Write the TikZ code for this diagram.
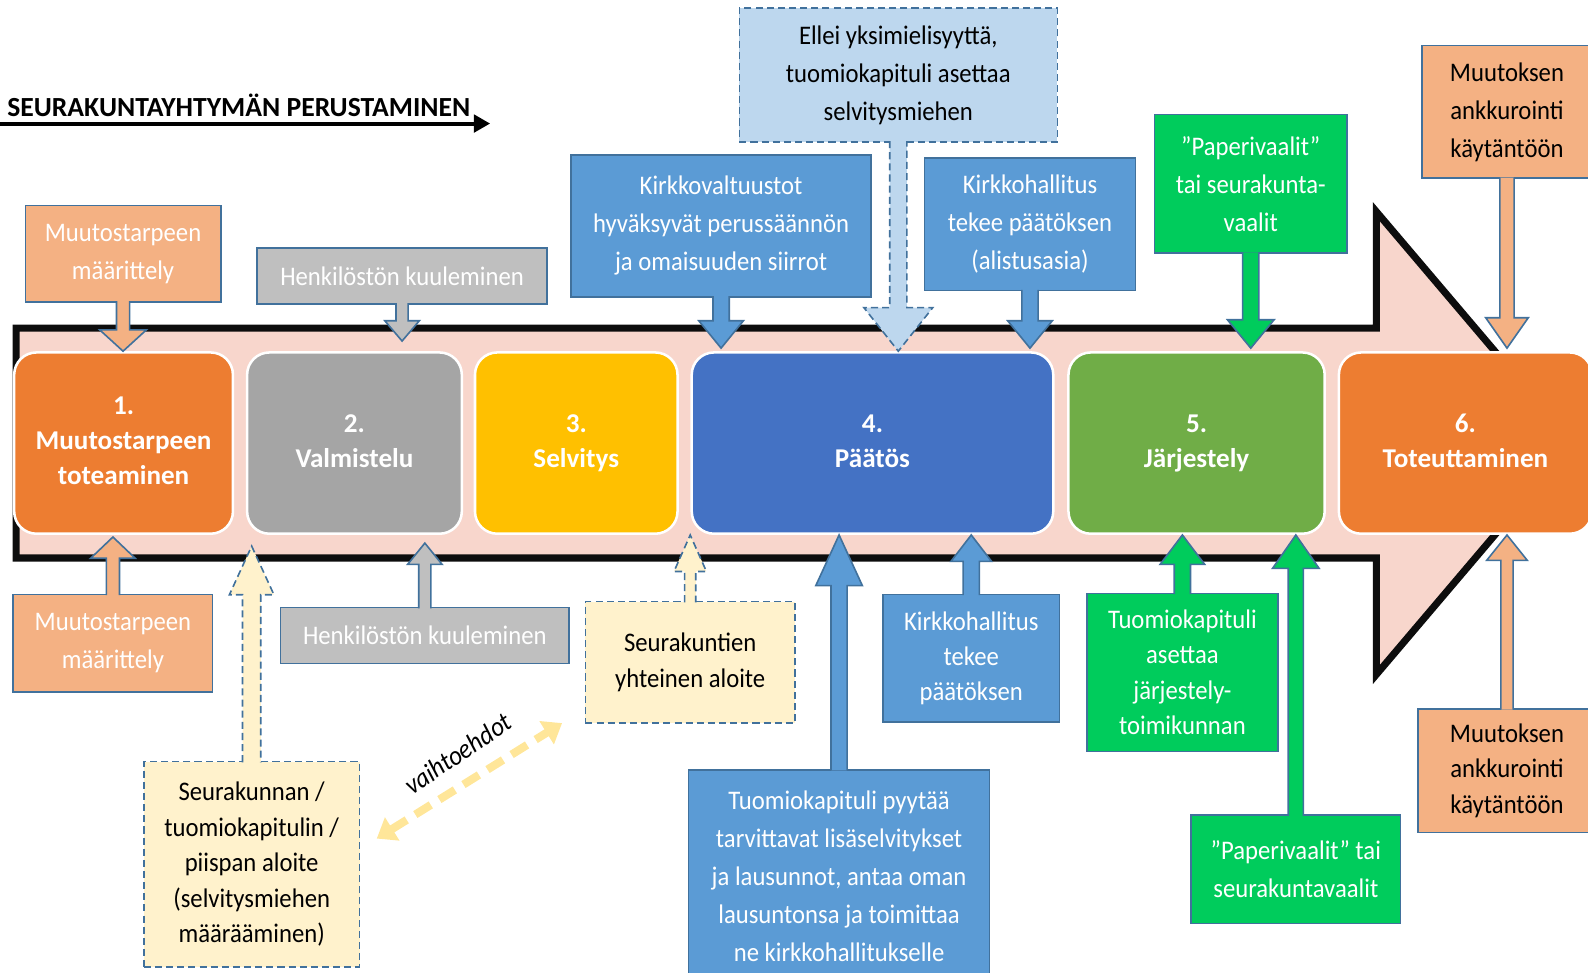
\documentclass[tikz,border=0pt]{standalone}
\usepackage{fontspec}
\setmainfont{Carlito}
\newfontfamily\cfont{Carlito}[FakeStretch=0.92]
\usetikzlibrary{calc,arrows.meta}
\definecolor{pinkband}{HTML}{F8D6CC}
\definecolor{corangeD}{HTML}{ED7D31}
\definecolor{cgrayD}{HTML}{A5A5A5}
\definecolor{cyellowD}{HTML}{FFC000}
\definecolor{cblueD}{HTML}{4472C4}
\definecolor{cgreenD}{HTML}{70AD47}
\definecolor{corangeL}{HTML}{F4B183}
\definecolor{cgrayL}{HTML}{BFBFBF}
\definecolor{cblueM}{HTML}{5B9BD5}
\definecolor{cblueL}{HTML}{BDD7EE}
\definecolor{cgreenB}{HTML}{00CC5C}
\definecolor{cyellowL}{HTML}{FFF2CC}
\definecolor{outl}{HTML}{41719C}
\definecolor{altarrow}{HTML}{FFE699}
\newcommand\blockarr[6]{%
  \coordinate (ba-s) at #2;
  \coordinate (ba-t) at #3;
  \coordinate (ba-b) at ($(ba-t)!#6!(ba-s)$);
  \path[#1] ([xshift=-#4]ba-s) -- ([xshift=-#4]ba-b) -- ([xshift=-#5]ba-b) -- (ba-t) -- ([xshift=#5]ba-b) -- ([xshift=#4]ba-b) -- ([xshift=#4]ba-s);
}
\tikzset{
  rowbox/.style={draw=white, line width=2.5pt, rounded corners=22pt, text=white,
    font=\fontsize{26.8}{34.5}\selectfont\bfseries, align=center, minimum height=179pt, inner sep=0pt,
    execute at end node=\vphantom{jy}},
  callout/.style={draw=outl, line width=1.6pt, font=\cfont\fontsize{26.5}{37.5}\selectfont, align=center, inner sep=0pt},
  tight/.style={font=\cfont\fontsize{26.5}{35}\selectfont},
  dashcallout/.style={callout, dash pattern=on 7pt off 4pt},
  callarrow/.style={draw=outl, line width=1.6pt},
  dasharrow/.style={callarrow, dash pattern=on 7pt off 4pt},
}
\begin{document}
\begin{tikzpicture}[x=1pt,y=-1pt]
\useasboundingbox (0,0) rectangle (1568,960.7);
% big process arrow
\draw[line width=7pt, fill=pinkband, draw=black!95] (16,324) -- (1359,324) -- (1359,209) -- (1553,437.5) -- (1359,666) -- (1359,551) -- (16,551) -- cycle;
% stage boxes
\node[rowbox, fill=corangeD, minimum width=216pt] (s1) at (122,437.5) {1.\\Muutostarpeen\\toteaminen};
\node[rowbox, fill=cgrayD, minimum width=212pt] (s2) at (350,437.5) {2.\\Valmistelu};
\node[rowbox, fill=cyellowD, minimum width=200pt] (s3) at (569,437.5) {3.\\Selvitys};
\node[rowbox, fill=cblueD, minimum width=357pt] (s4) at (861.5,437.5) {4.\\Päätös};
\node[rowbox, fill=cgreenD, minimum width=253pt] (s5) at (1181.5,437.5) {5.\\Järjestely};
\node[rowbox, fill=corangeD, minimum width=250pt] (s6) at (1447,437.5) {6.\\Toteuttaminen};
% top callouts
\node[callout, fill=corangeL, text=white, minimum width=193pt, minimum height=95pt] (A1) at (121.5,250.5) {Muutostarpeen\\määrittely};
\node[callout, fill=cgrayL, text=white, minimum width=286pt, minimum height=55pt] (A2) at (397,272.5) {Henkilöstön kuuleminen};
\node[callout, fill=cblueM, text=white, minimum width=296pt, minimum height=140pt] (A3) at (712,223) {Kirkkovaltuustot\\hyväksyvät perussäännön\\ja omaisuuden siirrot};
\node[dashcallout, fill=cblueL, text=black, minimum width=314pt, minimum height=132pt] (A4) at (887,74) {Ellei yksimielisyyttä,\\tuomiokapituli asettaa\\selvitysmiehen};
\node[callout, fill=cblueM, text=white, minimum width=208pt, minimum height=131pt] (A5) at (1017,221.5) {Kirkkohallitus\\tekee päätöksen\\(alistusasia)};
\node[callout, fill=cgreenB, text=white, minimum width=190pt, minimum height=137pt] (A6) at (1235,181.5) {”Paperivaalit”\\tai seurakunta-\\vaalit};
\node[callout, fill=corangeL, text=black, minimum width=168pt, minimum height=131pt] (A7) at (1488,110.5) {Muutoksen\\ankkurointi\\käytäntöön};
% bottom callouts
\node[callout, fill=corangeL, text=white, minimum width=197pt, minimum height=96pt] (B1) at (111.5,635) {Muutostarpeen\\määrittely};
\node[dashcallout, tight, fill=cyellowL, text=black, minimum width=213pt, minimum height=203pt] (B2) at (248.5,853.5) {Seurakunnan /\\tuomiokapitulin /\\piispan aloite\\(selvitysmiehen\\määrääminen)};
\node[callout, fill=cgrayL, text=white, minimum width=285pt, minimum height=55pt] (B3) at (419.5,627.5) {Henkilöstön kuuleminen};
\node[dashcallout, tight, fill=cyellowL, text=black, minimum width=207pt, minimum height=120pt] (B4) at (681.5,654) {Seurakuntien\\yhteinen aloite};
\node[callout, fill=cblueM, text=white, minimum width=297pt, minimum height=210pt] (B5) at (828.5,865) {Tuomiokapituli pyytää\\tarvittavat lisäselvitykset\\ja lausunnot, antaa oman\\lausuntonsa ja toimittaa\\ne kirkkohallitukselle};
\node[callout, tight, fill=cblueM, text=white, minimum width=174pt, minimum height=126pt] (B6) at (959,650) {Kirkkohallitus\\tekee\\päätöksen};
\node[callout, tight, fill=cgreenB, text=white, minimum width=189pt, minimum height=156pt] (B7) at (1167.5,664) {Tuomiokapituli\\asettaa\\järjestely-\\toimikunnan};
\node[callout, fill=cgreenB, text=white, minimum width=207pt, minimum height=107pt] (B8) at (1279.5,858.5) {”Paperivaalit” tai\\seurakuntavaalit};
\node[callout, tight, fill=corangeL, text=black, minimum width=176pt, minimum height=122pt] (B9) at (1488,761) {Muutoksen\\ankkurointi\\käytäntöön};
% arrow tips
\coordinate (tA1) at (A1.south |- s1.north);
\coordinate (tA2) at ($(A2.south |- s2.north)+(0,-10)$);
\coordinate (tA3) at ($(A3.south |- s4.north)+(0,-3)$);
\coordinate (tA4) at (A4.south |- s4.north);
\coordinate (tA5) at ($(A5.south |- s4.north)+(0,-3)$);
\coordinate (tA6) at ($(A6.south |- s5.north)+(0,-3)$);
\coordinate (tA7) at ($(A7.south |- s6.north)+(0,-3)$);
\coordinate (tB1) at ($(B1.north |- s1.south)+(0,2)$);
\coordinate (tB2) at ($(B2.north |- s2.south)+(0,11)$);
\coordinate (tB3) at ($(B3.north |- s2.south)+(0,8)$);
\coordinate (tB4) at (B4.north |- s4.south);
\coordinate (tB5) at (B5.north |- s4.south);
\coordinate (tB6) at (B6.north |- s4.south);
\coordinate (tB7) at (B7.north |- s5.south);
\coordinate (tB8) at (B8.north |- s5.south);
\coordinate (tB9) at (B9.north |- s6.south);
% callout arrows
\blockarr{callarrow, fill=corangeL}{([yshift=1.5pt]A1.south)}{(tA1)}{6.5pt}{23pt}{21pt}
\blockarr{callarrow, fill=cgrayL}{([yshift=1.5pt]A2.south)}{(tA2)}{6pt}{17pt}{20pt}
\blockarr{callarrow, fill=cblueM}{([yshift=1.5pt]A3.south)}{(tA3)}{8pt}{22pt}{27pt}
\blockarr{dasharrow, fill=cblueL}{([yshift=1.5pt]A4.south)}{(tA4)}{8.5pt}{34pt}{43pt}
\blockarr{callarrow, fill=cblueM}{([yshift=1.5pt]A5.south)}{(tA5)}{8pt}{22pt}{27pt}
\blockarr{callarrow, fill=cgreenB}{([yshift=1.5pt]A6.south)}{(tA6)}{8pt}{23pt}{28pt}
\blockarr{callarrow, fill=corangeL}{([yshift=1.5pt]A7.south)}{(tA7)}{7pt}{21pt}{30pt}
\blockarr{callarrow, fill=corangeL}{([yshift=-1.5pt]B1.north)}{(tB1)}{6.5pt}{22pt}{21pt}
\blockarr{dasharrow, fill=cyellowL}{([yshift=-1.5pt]B2.north)}{(tB2)}{9pt}{22pt}{48pt}
\blockarr{callarrow, fill=cgrayL}{([yshift=-1.5pt]B3.north)}{(tB3)}{6pt}{17pt}{21pt}
\blockarr{dasharrow, fill=cyellowL}{([yshift=-1.5pt]B4.north)}{(tB4)}{5.5pt}{16pt}{36pt}
\blockarr{callarrow, fill=cblueM}{([yshift=-1.5pt]B5.north)}{(tB5)}{8pt}{23pt}{50pt}
\blockarr{callarrow, fill=cblueM}{([yshift=-1.5pt]B6.north)}{(tB6)}{8pt}{20pt}{26pt}
\blockarr{callarrow, fill=cgreenB}{([yshift=-1.5pt]B7.north)}{(tB7)}{8pt}{22pt}{29pt}
\blockarr{callarrow, fill=cgreenB}{([yshift=-1.5pt]B8.north)}{(tB8)}{7.5pt}{23pt}{33pt}
\blockarr{callarrow, fill=corangeL}{([yshift=-1.5pt]B9.north)}{(tB9)}{6pt}{20pt}{25pt}
% alternatives arrow
\coordinate (va1) at (372,828);
\coordinate (va2) at (555,714);
\draw[altarrow, line width=8pt, dash pattern=on 18pt off 10pt,
  {Triangle[length=18pt,width=26pt]}-{Triangle[length=18pt,width=26pt]}] (va1) -- (va2);
\node[rotate=34, inner sep=0pt, font=\cfont\fontsize{27}{30}\selectfont\itshape] (valt) at (452,744) {vaihtoehdot};
% title
\node[anchor=base west, inner sep=0pt, font=\fontsize{27.3}{30}\selectfont\bfseries] (title) at (7,115) {SEURAKUNTAYHTYMÄN PERUSTAMINEN};
\coordinate (tl) at (-5,122);
\coordinate (tr) at (484,122);
\draw[line width=4pt, -{Triangle[length=16pt,width=17pt]}] (tl) -- (tr);
\end{tikzpicture}
\end{document}
